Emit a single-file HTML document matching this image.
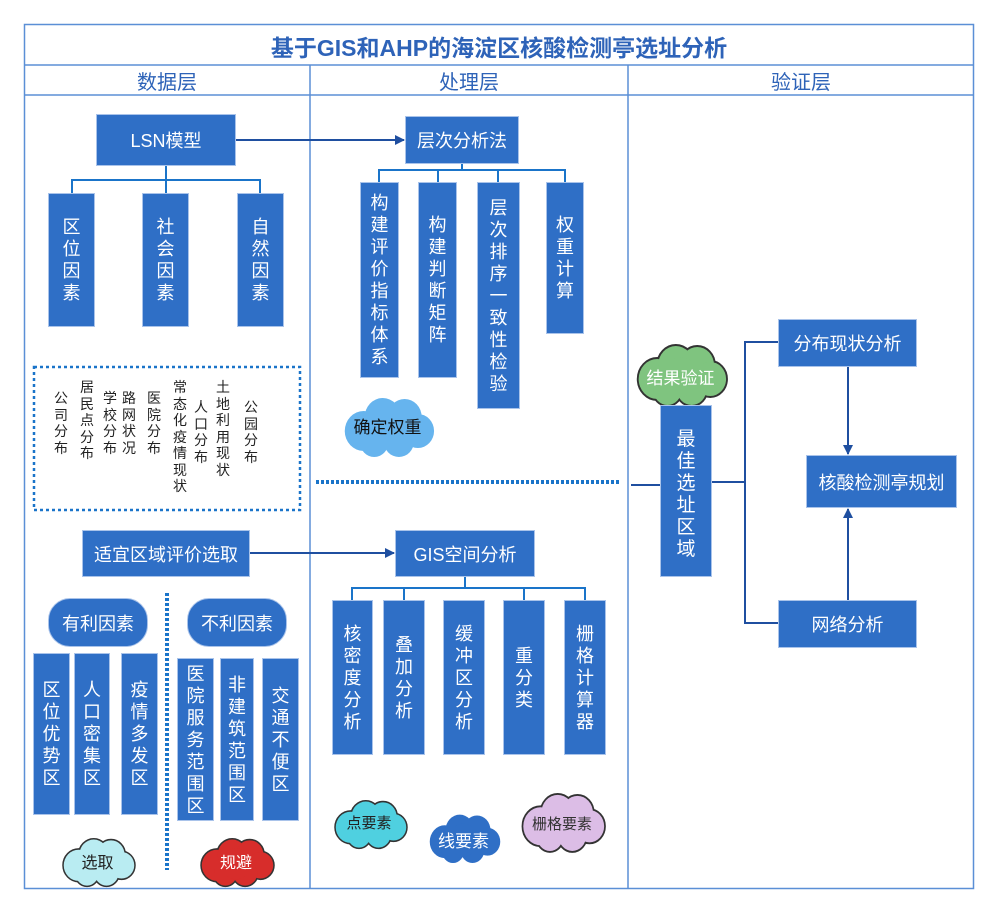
<!DOCTYPE html>
<html><head><meta charset="utf-8"><style>
body{margin:0;background:#fff;width:999px;height:915px;position:relative;overflow:hidden;font-family:"Liberation Sans","Noto Sans CJK SC",sans-serif}
.b{position:absolute;background:#2f6fc6;color:#fff;display:flex;align-items:center;justify-content:center;text-align:center;font-size:18px;box-sizing:border-box;border:1px solid #a9c3ea}
.v{line-height:22px;font-size:18px}
.t{position:absolute;display:flex;align-items:center;justify-content:center;font-size:16px}
svg{position:absolute;left:0;top:0}
</style></head><body>
<svg width="999" height="915">
<defs>
<g id="cl"><circle cx="25" cy="35" r="20"/><circle cx="45" cy="21" r="19"/><circle cx="68" cy="21" r="18"/><circle cx="82" cy="35" r="17"/><circle cx="62" cy="45" r="16"/><circle cx="36" cy="46" r="15"/><circle cx="50" cy="33" r="20"/></g>
<marker id="ar" markerWidth="10" markerHeight="10" refX="9" refY="5" orient="auto" markerUnits="userSpaceOnUse"><path d="M0,0L10,5L0,10z" fill="#1f4fa0"/></marker>
</defs>
<rect x="24.5" y="24.5" width="949" height="864" fill="none" stroke="#5b8fd6" stroke-width="1.5"/>
<line x1="24" y1="65" x2="974" y2="65" stroke="#5b8fd6" stroke-width="1.5"/>
<line x1="24" y1="95" x2="974" y2="95" stroke="#5b8fd6" stroke-width="1.5"/>
<line x1="310" y1="65" x2="310" y2="889" stroke="#5b8fd6" stroke-width="1.5"/>
<line x1="628" y1="65" x2="628" y2="889" stroke="#5b8fd6" stroke-width="1.5"/>
<g stroke="#1a74c9" stroke-width="2" fill="none">
<path d="M166 166V180M72 193V180H260V193M166 180V193"/>
<path d="M462 164V170M379 182V170H565V182M438 170V182M498 170V182"/>
<path d="M465 577V588M352 600V588H585V600M404 588V600M524 588V600"/>
</g>
<g stroke="#1f4fa0" stroke-width="2" fill="none">
<line x1="236" y1="140" x2="404" y2="140" marker-end="url(#ar)"/>
<line x1="250" y1="553" x2="394" y2="553" marker-end="url(#ar)"/>
<line x1="631" y1="485" x2="660" y2="485"/>
<path d="M712 482H745M778 342H745V623H778"/>
<line x1="848" y1="367" x2="848" y2="454" marker-end="url(#ar)"/>
<line x1="848" y1="600" x2="848" y2="509" marker-end="url(#ar)"/>
</g>
<rect x="34" y="367" width="266" height="143" fill="none" stroke="#1a74c9" stroke-width="2.5" stroke-dasharray="3 3"/>
<line x1="316" y1="482" x2="620" y2="482" stroke="#1a74c9" stroke-width="4" stroke-dasharray="3 2"/>
<line x1="167" y1="593" x2="167" y2="870" stroke="#1a74c9" stroke-width="4" stroke-dasharray="3 2"/>
<g transform="translate(634,344) scale(0.93,1.0)"><use href="#cl" fill="#7fc47f" stroke="#333" stroke-width="4"/><use href="#cl" fill="#7fc47f"/></g>
<g transform="translate(340,396) scale(0.95,1.0)"><use href="#cl" fill="#66b4ee"/></g>
<g transform="translate(60,838) scale(0.75,0.78)"><use href="#cl" fill="#b9ecf2" stroke="#333" stroke-width="4"/><use href="#cl" fill="#b9ecf2"/></g>
<g transform="translate(198,838) scale(0.76,0.78)"><use href="#cl" fill="#d72d2b" stroke="#333" stroke-width="4"/><use href="#cl" fill="#d72d2b"/></g>
<g transform="translate(332,800) scale(0.75,0.78)"><use href="#cl" fill="#4fd0e0" stroke="#333" stroke-width="4"/><use href="#cl" fill="#4fd0e0"/></g>
<g transform="translate(426,813) scale(0.75,0.82)"><use href="#cl" fill="#2f6fc6"/></g>
<g transform="translate(519,793) scale(0.86,0.95)"><use href="#cl" fill="#dcbde6" stroke="#333" stroke-width="4"/><use href="#cl" fill="#dcbde6"/></g>
</svg>
<div class="t" style="left:24px;top:27px;width:950px;height:38px;font-size:23px;font-weight:bold;color:#2e63b8">基于GIS和AHP的海淀区核酸检测亭选址分析</div>
<div class="t" style="left:24px;top:65px;width:286px;height:30px;font-size:20px;color:#2e63b8">数据层</div>
<div class="t" style="left:310px;top:65px;width:318px;height:30px;font-size:20px;color:#2e63b8">处理层</div>
<div class="t" style="left:628px;top:65px;width:346px;height:30px;font-size:20px;color:#2e63b8">验证层</div>

<div class="b" style="left:96px;top:114px;width:140px;height:52px">LSN模型</div>
<div class="b" style="left:405px;top:116px;width:114px;height:48px">层次分析法</div>
<div class="b v" style="left:48px;top:193px;width:47px;height:134px">区<br>位<br>因<br>素</div>
<div class="b v" style="left:142px;top:193px;width:47px;height:134px">社<br>会<br>因<br>素</div>
<div class="b v" style="left:237px;top:193px;width:47px;height:134px">自<br>然<br>因<br>素</div>
<div class="b v" style="left:360px;top:182px;width:39px;height:196px">构<br>建<br>评<br>价<br>指<br>标<br>体<br>系</div>
<div class="b v" style="left:418px;top:182px;width:39px;height:196px">构<br>建<br>判<br>断<br>矩<br>阵</div>
<div class="b v" style="left:477px;top:182px;width:43px;height:227px">层<br>次<br>排<br>序<br>一<br>致<br>性<br>检<br>验</div>
<div class="b v" style="left:546px;top:182px;width:38px;height:152px">权<br>重<br>计<br>算</div>
<div class="t" style="left:340px;top:400px;width:95px;height:50px;font-size:17px;color:#111">确定权重</div>

<div style="position:absolute;left:36px;top:370px;width:262px;height:138px;font-size:14px;color:#222;line-height:16.5px">
<div style="position:absolute;left:18px;top:20px;width:15px">公<br>司<br>分<br>布</div>
<div style="position:absolute;left:44px;top:9px;width:15px">居<br>民<br>点<br>分<br>布</div>
<div style="position:absolute;left:67px;top:20px;width:15px">学<br>校<br>分<br>布</div>
<div style="position:absolute;left:86px;top:20px;width:15px">路<br>网<br>状<br>况</div>
<div style="position:absolute;left:111px;top:20px;width:15px">医<br>院<br>分<br>布</div>
<div style="position:absolute;left:137px;top:9px;width:15px">常<br>态<br>化<br>疫<br>情<br>现<br>状</div>
<div style="position:absolute;left:158px;top:29px;width:15px">人<br>口<br>分<br>布</div>
<div style="position:absolute;left:180px;top:9px;width:15px">土<br>地<br>利<br>用<br>现<br>状</div>
<div style="position:absolute;left:208px;top:29px;width:15px">公<br>园<br>分<br>布</div>
</div>

<div class="b" style="left:82px;top:530px;width:168px;height:47px">适宜区域评价选取</div>
<div class="b" style="left:395px;top:530px;width:140px;height:47px">GIS空间分析</div>
<div class="b v" style="left:332px;top:600px;width:41px;height:155px">核<br>密<br>度<br>分<br>析</div>
<div class="b v" style="left:383px;top:600px;width:42px;height:155px">叠<br>加<br>分<br>析</div>
<div class="b v" style="left:443px;top:600px;width:42px;height:155px">缓<br>冲<br>区<br>分<br>析</div>
<div class="b v" style="left:503px;top:600px;width:42px;height:155px">重<br>分<br>类</div>
<div class="b v" style="left:564px;top:600px;width:42px;height:155px">栅<br>格<br>计<br>算<br>器</div>

<div class="b" style="left:48px;top:598px;width:100px;height:49px;border-radius:22px">有利因素</div>
<div class="b" style="left:187px;top:598px;width:100px;height:49px;border-radius:22px">不利因素</div>
<div class="b v" style="left:33px;top:653px;width:37px;height:162px">区<br>位<br>优<br>势<br>区</div>
<div class="b v" style="left:74px;top:653px;width:36px;height:162px">人<br>口<br>密<br>集<br>区</div>
<div class="b v" style="left:121px;top:653px;width:37px;height:162px">疫<br>情<br>多<br>发<br>区</div>
<div class="b v" style="left:177px;top:658px;width:37px;height:163px">医<br>院<br>服<br>务<br>范<br>围<br>区</div>
<div class="b v" style="left:220px;top:658px;width:34px;height:163px">非<br>建<br>筑<br>范<br>围<br>区</div>
<div class="b v" style="left:262px;top:658px;width:37px;height:163px">交<br>通<br>不<br>便<br>区</div>

<div class="t" style="left:60px;top:838px;width:75px;height:45px;color:#222">选取</div>
<div class="t" style="left:198px;top:838px;width:76px;height:45px;color:#fff">规避</div>
<div class="t" style="left:332px;top:800px;width:74px;height:45px;color:#222;font-size:15px">点要素</div>
<div class="t" style="left:426px;top:815px;width:75px;height:48px;color:#fff;font-size:17px">线要素</div>
<div class="t" style="left:519px;top:795px;width:86px;height:56px;color:#333;font-size:15px">栅格要素</div>

<div class="b v" style="left:660px;top:405px;width:52px;height:172px;padding-top:8px;font-size:19px;line-height:22px">最<br>佳<br>选<br>址<br>区<br>域</div>
<div class="t" style="left:634px;top:346px;width:93px;height:60px;color:#fff;font-size:17px">结果验证</div>
<div class="b" style="left:778px;top:319px;width:139px;height:48px">分布现状分析</div>
<div class="b" style="left:806px;top:455px;width:151px;height:53px">核酸检测亭规划</div>
<div class="b" style="left:778px;top:600px;width:139px;height:48px">网络分析</div>
</body></html>
